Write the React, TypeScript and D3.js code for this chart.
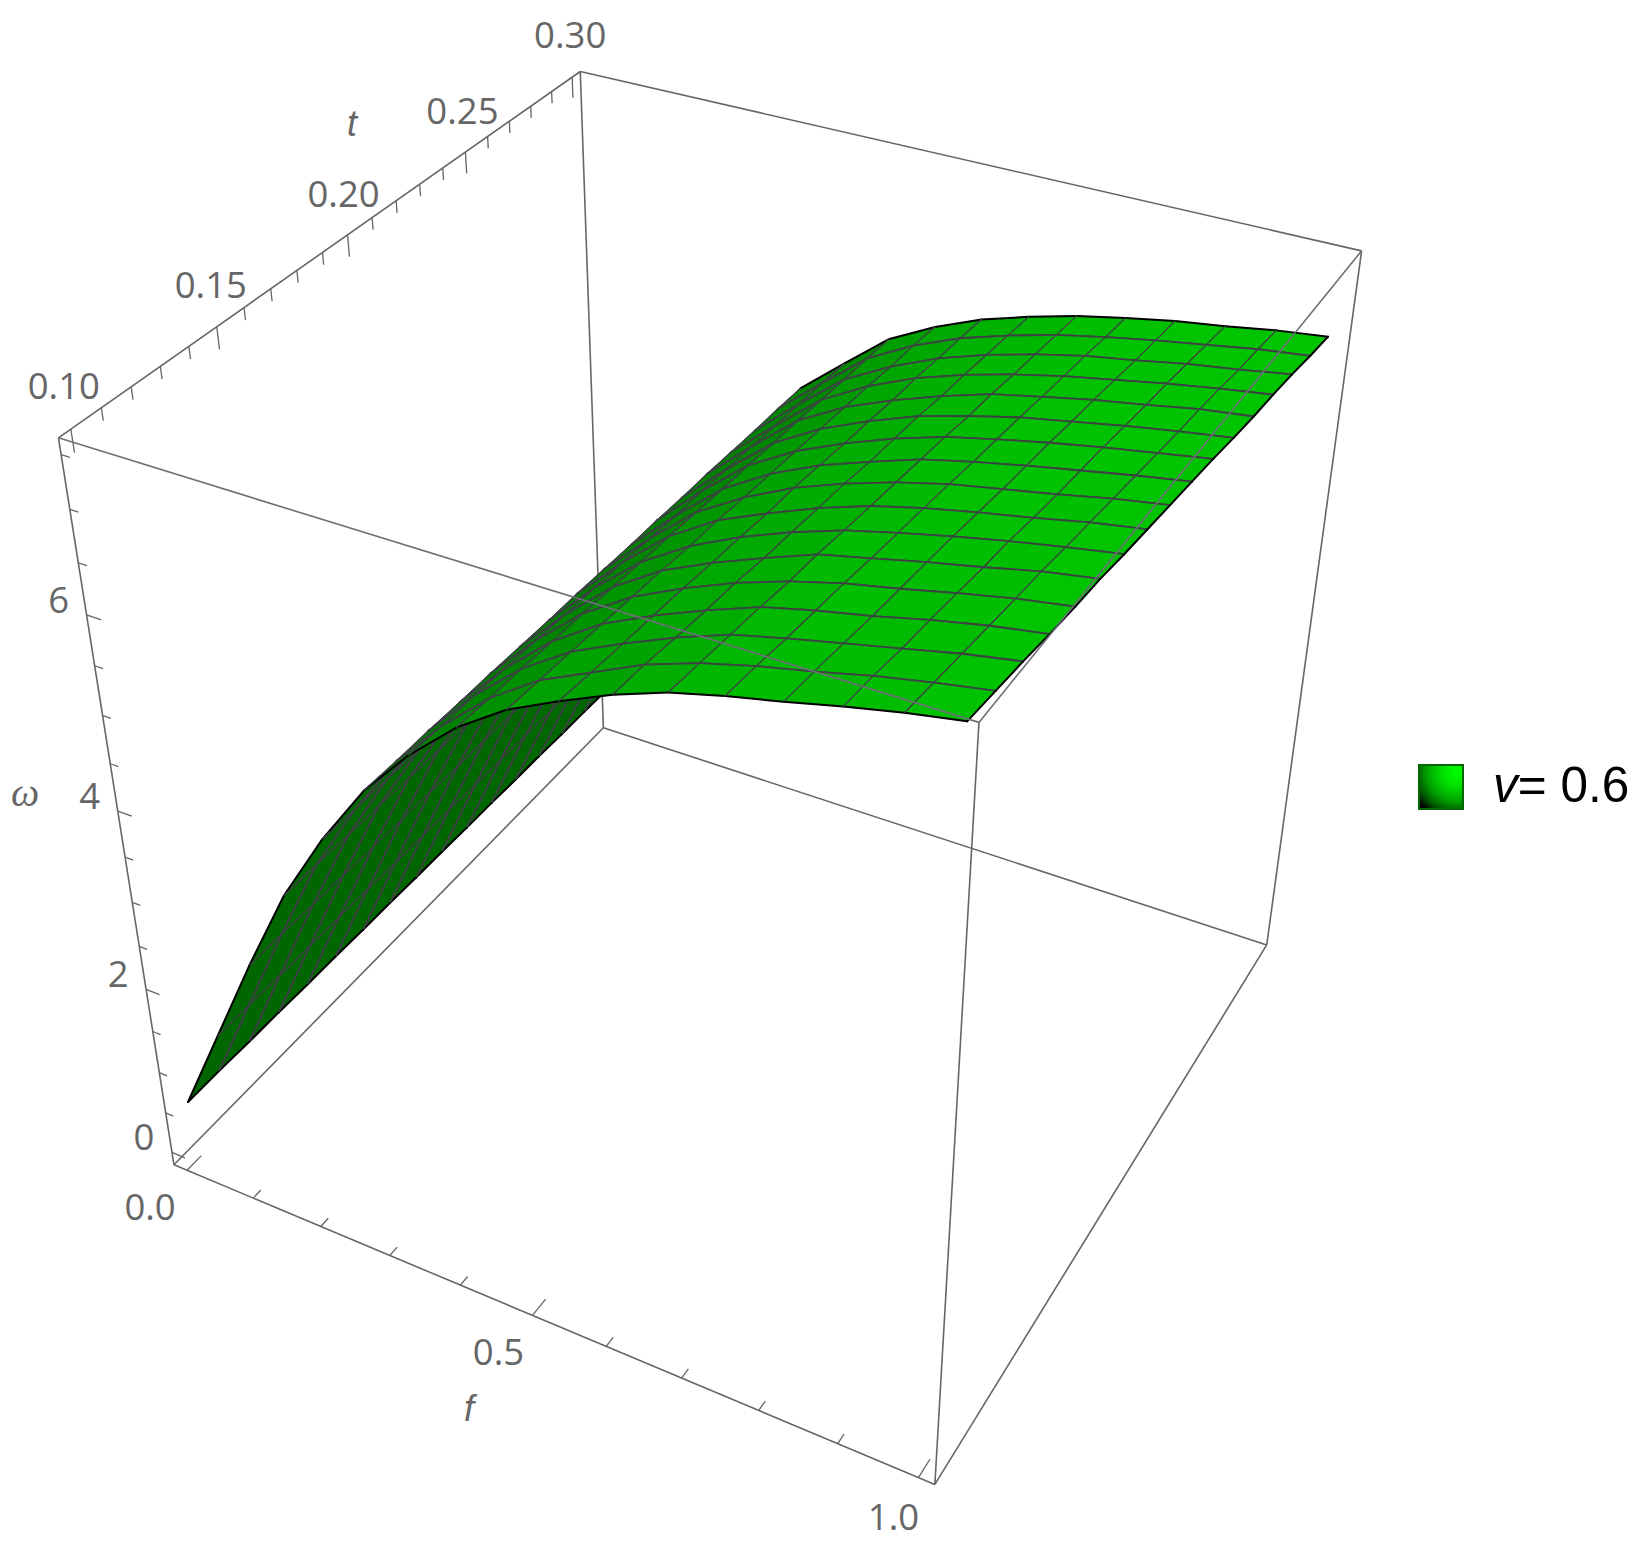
import * as d3 from "d3";

// omega(f, t), one row per t mesh line
const fGrid = [0, 0.0625, 0.125, 0.1875, 0.25, 0.3125, 0.375, 0.4375, 0.5, 0.5625, 0.625, 0.6875, 0.75, 0.8125, 0.875, 0.9375, 1];
const tGrid = [0.1, 0.1125, 0.125, 0.1375, 0.15, 0.1625, 0.175, 0.1875, 0.2, 0.2125, 0.225, 0.2375, 0.25, 0.2625, 0.275, 0.2875, 0.3];
const omegaRows = [
  [0.58, 1.6, 2.62, 3.58, 4.36, 5.03, 5.55, 5.98, 6.31, 6.55, 6.77, 6.95, 7.08, 7.19, 7.31, 7.42, 7.51],
  [0.58, 1.6, 2.62, 3.58, 4.35, 5.02, 5.53, 5.96, 6.29, 6.52, 6.75, 6.92, 7.05, 7.16, 7.28, 7.38, 7.47],
  [0.57, 1.59, 2.61, 3.57, 4.35, 5.02, 5.53, 5.95, 6.27, 6.5, 6.71, 6.89, 7.01, 7.12, 7.23, 7.34, 7.43],
  [0.57, 1.59, 2.61, 3.57, 4.34, 5.01, 5.51, 5.93, 6.25, 6.48, 6.68, 6.86, 6.98, 7.08, 7.2, 7.3, 7.38],
  [0.56, 1.59, 2.6, 3.56, 4.34, 5.01, 5.5, 5.92, 6.23, 6.46, 6.66, 6.82, 6.95, 7.05, 7.16, 7.26, 7.34],
  [0.56, 1.59, 2.6, 3.56, 4.33, 5.0, 5.48, 5.9, 6.21, 6.43, 6.62, 6.8, 6.91, 7.02, 7.12, 7.23, 7.31],
  [0.55, 1.58, 2.6, 3.55, 4.33, 4.99, 5.47, 5.88, 6.18, 6.41, 6.6, 6.76, 6.88, 6.99, 7.09, 7.18, 7.26],
  [0.55, 1.58, 2.59, 3.55, 4.32, 4.99, 5.46, 5.87, 6.17, 6.38, 6.57, 6.73, 6.85, 6.95, 7.04, 7.14, 7.22],
  [0.54, 1.58, 2.59, 3.54, 4.32, 4.98, 5.44, 5.85, 6.14, 6.37, 6.55, 6.7, 6.82, 6.91, 7.0, 7.1, 7.18],
  [0.54, 1.57, 2.59, 3.54, 4.31, 4.97, 5.42, 5.83, 6.12, 6.34, 6.51, 6.67, 6.78, 6.88, 6.97, 7.06, 7.14],
  [0.53, 1.57, 2.58, 3.53, 4.3, 4.97, 5.42, 5.82, 6.1, 6.31, 6.49, 6.64, 6.75, 6.85, 6.94, 7.02, 7.1],
  [0.53, 1.57, 2.58, 3.53, 4.3, 4.96, 5.4, 5.8, 6.08, 6.29, 6.47, 6.6, 6.72, 6.81, 6.9, 6.98, 7.05],
  [0.52, 1.56, 2.58, 3.52, 4.29, 4.96, 5.39, 5.79, 6.06, 6.26, 6.43, 6.58, 6.68, 6.78, 6.86, 6.95, 7.01],
  [0.52, 1.56, 2.57, 3.52, 4.29, 4.95, 5.37, 5.77, 6.04, 6.25, 6.41, 6.54, 6.65, 6.74, 6.83, 6.91, 6.98],
  [0.51, 1.56, 2.57, 3.51, 4.28, 4.94, 5.36, 5.75, 6.01, 6.22, 6.38, 6.51, 6.62, 6.7, 6.79, 6.86, 6.94],
  [0.51, 1.55, 2.56, 3.51, 4.28, 4.94, 5.35, 5.74, 6.0, 6.2, 6.35, 6.48, 6.58, 6.67, 6.75, 6.83, 6.89],
  [0.5, 1.55, 2.56, 3.5, 4.27, 4.93, 5.33, 5.72, 5.97, 6.17, 6.32, 6.45, 6.55, 6.64, 6.71, 6.79, 6.85],
];

const fLabels = ["0.0", "0.5", "1.0"];
const tLabels = ["0.10", "0.15", "0.20", "0.25", "0.30"];
const omegaLabels = ["0", "2", "4", "6"];
const legendValue = "= 0.6";

const fDomain = [-0.02, 1.02];
const tDomain = [0.096, 0.304];
const omegaDomain = [-0.16, 7.65];

// where the plot box corners landed on the page: [u, v, w, x, y]
const boxCorners = [
  [0, 0, 1, 58.5, 437.5],
  [0, 1, 1, 580.3, 71.7],
  [1, 1, 1, 1361.7, 250.7],
  [1, 0, 1, 978.7, 722.7],
  [0, 0, 0, 174, 1165],
  [0, 1, 0, 603.3, 727.7],
  [1, 1, 0, 1266.7, 945],
  [1, 0, 0, 935, 1484.3],
];

type Pt = { x: number; y: number; d: number };

// least squares fit of a 3x4 projection (p34 = 1) through the box corners
function fitProjection(): number[] {
  const rows: number[][] = [];
  const rhs: number[] = [];
  boxCorners.forEach(([u, v, w, px, py]) => {
    const X = px / 1000;
    const Y = py / 1000;
    rows.push([u, v, w, 1, 0, 0, 0, 0, -X * u, -X * v, -X * w]);
    rhs.push(X);
    rows.push([0, 0, 0, 0, u, v, w, 1, -Y * u, -Y * v, -Y * w]);
    rhs.push(Y);
  });
  const n = 11;
  const a = d3.range(n).map((i) =>
    d3.range(n + 1).map((j) =>
      j < n ? d3.sum(rows, (r) => r[i] * r[j]) : d3.sum(rows, (r, k) => r[i] * rhs[k]),
    ),
  );
  for (let i = 0; i < n; i++) {
    let best = i;
    for (let k = i + 1; k < n; k++) if (Math.abs(a[k][i]) > Math.abs(a[best][i])) best = k;
    [a[i], a[best]] = [a[best], a[i]];
    for (let k = 0; k < n; k++) {
      if (k === i) continue;
      const m = a[k][i] / a[i][i];
      for (let j = i; j <= n; j++) a[k][j] -= m * a[i][j];
    }
  }
  return a.map((r, i) => r[n] / r[i]);
}

const P = fitProjection();
const project = (u: number, v: number, w: number): Pt => {
  const d = P[8] * u + P[9] * v + P[10] * w + 1;
  return {
    x: ((P[0] * u + P[1] * v + P[2] * w + P[3]) / d) * 1000,
    y: ((P[4] * u + P[5] * v + P[6] * w + P[7]) / d) * 1000,
    d,
  };
};

const fScale = d3.scaleLinear().domain(fDomain).range([0, 1]);
const tScale = d3.scaleLinear().domain(tDomain).range([0, 1]);
const omegaScale = d3.scaleLinear().domain(omegaDomain).range([0, 1]);

const shade = d3
  .scaleLinear<string>()
  .domain([1.3, 2, 3.5, 5.5, 7.5, 10])
  .range(["#00c400", "#00b800", "#00a400", "#008e00", "#007c00", "#006e00"])
  .clamp(true);

const linePath = d3
  .line<Pt>()
  .x((p) => p.x)
  .y((p) => p.y);
const quadPath = d3
  .line<Pt>()
  .x((p) => p.x)
  .y((p) => p.y)
  .curve(d3.curveLinearClosed);

const signedArea = (q: Pt[]) =>
  d3.sum(q, (p, i) => {
    const n = q[(i + 1) % q.length];
    return p.x * n.y - n.x * p.y;
  });

const vertex = (i: number, j: number) =>
  project(fScale(fGrid[i]), tScale(tGrid[j]), omegaScale(omegaRows[j][i]));

const frontSign = Math.sign(
  signedArea([vertex(14, 8), vertex(15, 8), vertex(15, 9), vertex(14, 9)]),
);

const quads = d3
  .range(fGrid.length - 1)
  .flatMap((i) =>
    d3.range(tGrid.length - 1).map((j) => {
      const pts = [vertex(i, j), vertex(i + 1, j), vertex(i + 1, j + 1), vertex(i, j + 1)];
      const slope =
        (omegaRows[j][i + 1] + omegaRows[j + 1][i + 1] - omegaRows[j][i] - omegaRows[j + 1][i]) /
        2 /
        (fGrid[i + 1] - fGrid[i]);
      const back = Math.sign(signedArea(pts)) !== frontSign;
      return { i, j, pts, fill: back ? "#006600" : shade(slope), depth: d3.mean(pts, (p) => p.d) as number };
    }),
  )
  .sort((a, b) => b.depth - a.depth);

const corner = (u: number, v: number, w: number) => project(u, v, w);
const backEdges = [
  [corner(0, 0, 1), corner(0, 1, 1)],
  [corner(0, 1, 1), corner(1, 1, 1)],
  [corner(0, 1, 1), corner(0, 1, 0)],
  [corner(1, 1, 1), corner(1, 1, 0)],
  [corner(0, 0, 1), corner(0, 0, 0)],
  [corner(0, 0, 0), corner(1, 0, 0)],
  [corner(1, 0, 0), corner(1, 1, 0)],
  [corner(1, 1, 0), corner(0, 1, 0)],
  [corner(0, 1, 0), corner(0, 0, 0)],
  [corner(1, 0, 1), corner(1, 0, 0)],
];
const frontEdges = [
  [corner(0, 0, 1), corner(1, 0, 1)],
  [corner(1, 0, 1), corner(1, 1, 1)],
];

const BOX = "#666666";
const MESH = "#3f3f46";
const TICK_FONT = "'Open Sans', sans-serif";

const fTicks = d3.range(0, 1.001, 0.1);
const tTicks = d3.range(0.1, 0.3001, 0.01);
const omegaTicks = d3.range(0, 7.51, 0.5);

const tickSegments = [
  ...fTicks.map((f, k) => {
    const len = k % 5 === 0 ? 0.028 : 0.015;
    return [project(fScale(f), 0, 0), project(fScale(f), len, 0)];
  }),
  ...tTicks.map((t, k) => {
    const len = k % 5 === 0 ? 0.027 : 0.015;
    return [project(0, tScale(t), 1), project(0, tScale(t), 1 - len)];
  }),
  ...omegaTicks.map((o, k) => {
    const len = k % 4 === 0 ? 0.019 : 0.011;
    return [project(0, 0, omegaScale(o)), project(len, 0, omegaScale(o))];
  }),
];

const fLabelOffsets = [[-37, 36], [-34, 36], [-25, 38]];
const tLabelOffsets = [[-7, -44], [-6, -43], [-4, -42], [-3, -42], [-2, -43]];

function TickLabel({ x, y, text }: { x: number; y: number; text: string }) {
  return (
    <text x={x} y={y} textAnchor="middle" dominantBaseline="central" fontFamily={TICK_FONT} fontSize={36.5} fill="#666">
      {text}
    </text>
  );
}

export default function App() {
  return (
    <svg
      width={1644}
      height={1542}
      viewBox="0 0 1644 1542"
      style={{ position: "absolute", left: 0, top: 0, background: "#fff" }}
    >
      <defs>
        <radialGradient id="swatch" cx="0.85" cy="0.15" r="1.1">
          <stop offset="0" stopColor="#00ff00" />
          <stop offset="0.3" stopColor="#00e000" />
          <stop offset="0.62" stopColor="#00a000" />
          <stop offset="0.85" stopColor="#005000" />
          <stop offset="1" stopColor="#000000" />
        </radialGradient>
      </defs>

      {backEdges.map((e, k) => (
        <path key={k} d={linePath(e) as string} fill="none" stroke={BOX} strokeWidth={1.6} />
      ))}
      {tickSegments.map((e, k) => (
        <path key={k} d={linePath(e) as string} fill="none" stroke={BOX} strokeWidth={1.3} />
      ))}

      {quads.map((q) => (
        <g key={`${q.i}-${q.j}`} strokeLinecap="round">
          <path d={quadPath(q.pts) as string} fill={q.fill} stroke={q.fill} strokeWidth={0.6} />
          <path
            d={linePath([q.pts[0], q.pts[1]]) as string}
            stroke={q.j === 0 ? "#000" : MESH}
            strokeWidth={q.j === 0 ? 2 : 1.8}
            fill="none"
          />
          <path
            d={linePath([q.pts[3], q.pts[2]]) as string}
            stroke={q.j === tGrid.length - 2 ? "#000" : MESH}
            strokeWidth={q.j === tGrid.length - 2 ? 2 : 1.8}
            fill="none"
          />
          <path
            d={linePath([q.pts[0], q.pts[3]]) as string}
            stroke={q.i === 0 ? "#000" : MESH}
            strokeWidth={q.i === 0 ? 2 : 1.2}
            fill="none"
          />
          <path
            d={linePath([q.pts[1], q.pts[2]]) as string}
            stroke={q.i === fGrid.length - 2 ? "#000" : MESH}
            strokeWidth={q.i === fGrid.length - 2 ? 2 : 1.2}
            fill="none"
          />
        </g>
      ))}

      {frontEdges.map((e, k) => (
        <path key={k} d={linePath(e) as string} fill="none" stroke="#6e6e78" strokeWidth={1.6} />
      ))}

      {tLabels.map((s, k) => {
        const p = project(0, tScale(+s), 1);
        return <TickLabel key={s} x={p.x + tLabelOffsets[k][0]} y={p.y + tLabelOffsets[k][1]} text={s} />;
      })}
      {omegaLabels.map((s) => {
        const p = project(0, 0, omegaScale(+s));
        return <TickLabel key={s} x={p.x - 28} y={p.y - 16} text={s} />;
      })}
      {fLabels.map((s, k) => {
        const p = project(fScale(+s), 0, 0);
        return <TickLabel key={s} x={p.x + fLabelOffsets[k][0]} y={p.y + fLabelOffsets[k][1]} text={s} />;
      })}

      <text x={352} y={136} textAnchor="middle" fontFamily="'Liberation Sans', sans-serif" fontStyle="italic" fontSize={36} fill="#666">
        t
      </text>
      <text x={25} y={806} textAnchor="middle" fontFamily="'Liberation Serif', serif" fontStyle="italic" fontSize={40} fill="#666">
        ω
      </text>
      <text x={469} y={1421} textAnchor="middle" fontFamily="'Liberation Sans', sans-serif" fontStyle="italic" fontSize={36} fill="#666">
        f
      </text>

      <rect x={1419} y={765} width={44} height={44} fill="url(#swatch)" stroke="#006600" strokeWidth={2} />
      <text x={1493} y={802} fontFamily="'Liberation Sans', sans-serif" fontSize={49.5} fill="#000">
        <tspan fontStyle="italic">v</tspan>
        {legendValue}
      </text>
    </svg>
  );
}
